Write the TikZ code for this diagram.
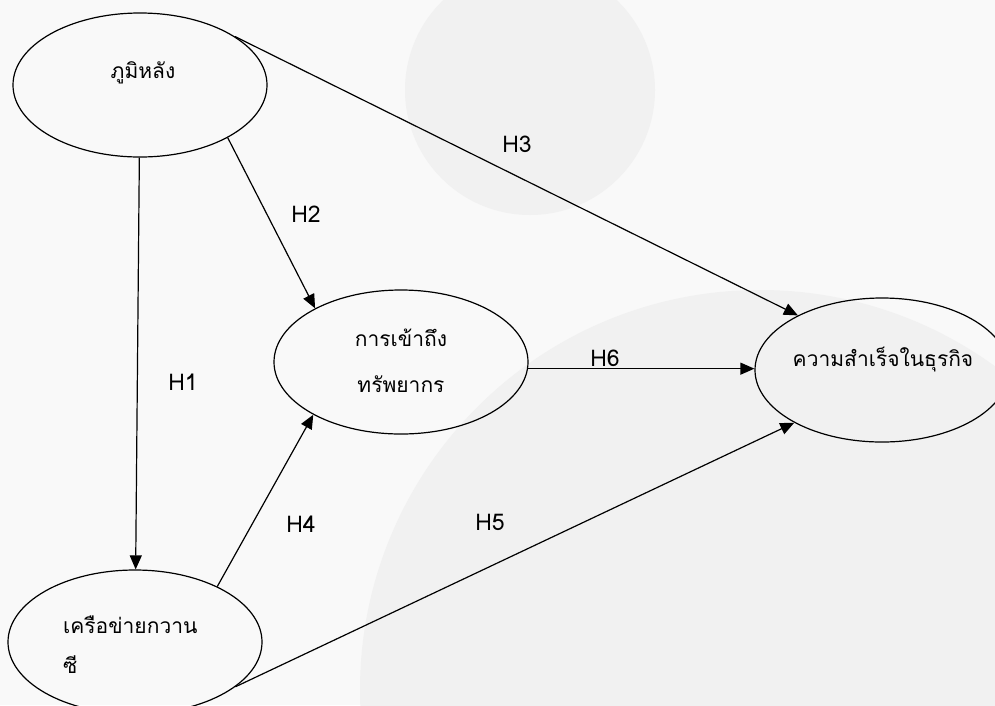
\documentclass[tikz,border=0pt]{standalone}
\usepackage{fontspec}
\usepackage{tikz}
\usetikzlibrary{arrows.meta, shapes.geometric}
\newfontfamily\thaifont[Script=Thai]{Loma}
\definecolor{pagegray}{HTML}{F9F9F9}
\definecolor{markgray}{HTML}{F1F1F1}

\begin{document}
\begin{tikzpicture}[x=1pt, y=-1pt,
  oval/.style={draw, ellipse, line width=1.2pt, minimum width=254pt, minimum height=144pt, inner sep=0pt},
  thai/.style={font=\thaifont\fontsize{21}{42}\selectfont, inner sep=0pt},
  hyp/.style={font=\thaifont\fontsize{23}{28}\selectfont, inner sep=0pt},
  arr/.style={-{Triangle[length=14pt, width=12pt]}, line width=1.2pt},
]
  \useasboundingbox (0,0) rectangle (995,705);
  \fill[pagegray] (0,0) rectangle (995,705);
  \fill[markgray] (530,90) circle (125);
  \fill[markgray] (760,690) circle (400);

  \node[oval] (bg) at (140,85) {};
  \node[oval] (net) at (135,642) {};
  \node[oval] (acc) at (401,362) {};
  \node[oval] (suc) at (882,370) {};

  \node[thai, anchor=base] (bgtext) at (143,78) {ภูมิหลัง};
  \node[thai, anchor=base west, align=left] (nettext) at (63,673) {เครือข่ายกวาน\\[-2pt]ซี};
  \node[thai, anchor=base, align=center] (acctext) at (401,392) {การเข้าถึง\\[4pt]ทรัพยากร};
  \node[thai, anchor=base] (suctext) at (883,366) {ความสำเร็จในธุรกิจ};

  \draw[arr] (bg) -- (net);
  \draw[arr] (bg.-31) -- (acc.148);
  \draw[arr] (bg.27) -- (suc.147);
  \draw[arr] (net.34) -- (acc.211);
  \draw[arr] (net.-24) -- (suc.211);
  \draw[arr] (acc.-3) -- (acc.-3 -| suc.west);

  \node[hyp] (h1) at (183,382) {H1};
  \node[hyp] (h2) at (306,214) {H2};
  \node[hyp] (h3) at (517,144) {H3};
  \node[hyp] (h4) at (301,524) {H4};
  \node[hyp] (h5) at (490,522) {H5};
  \node[hyp] (h6) at (605,358) {H6};
\end{tikzpicture}
\end{document}
